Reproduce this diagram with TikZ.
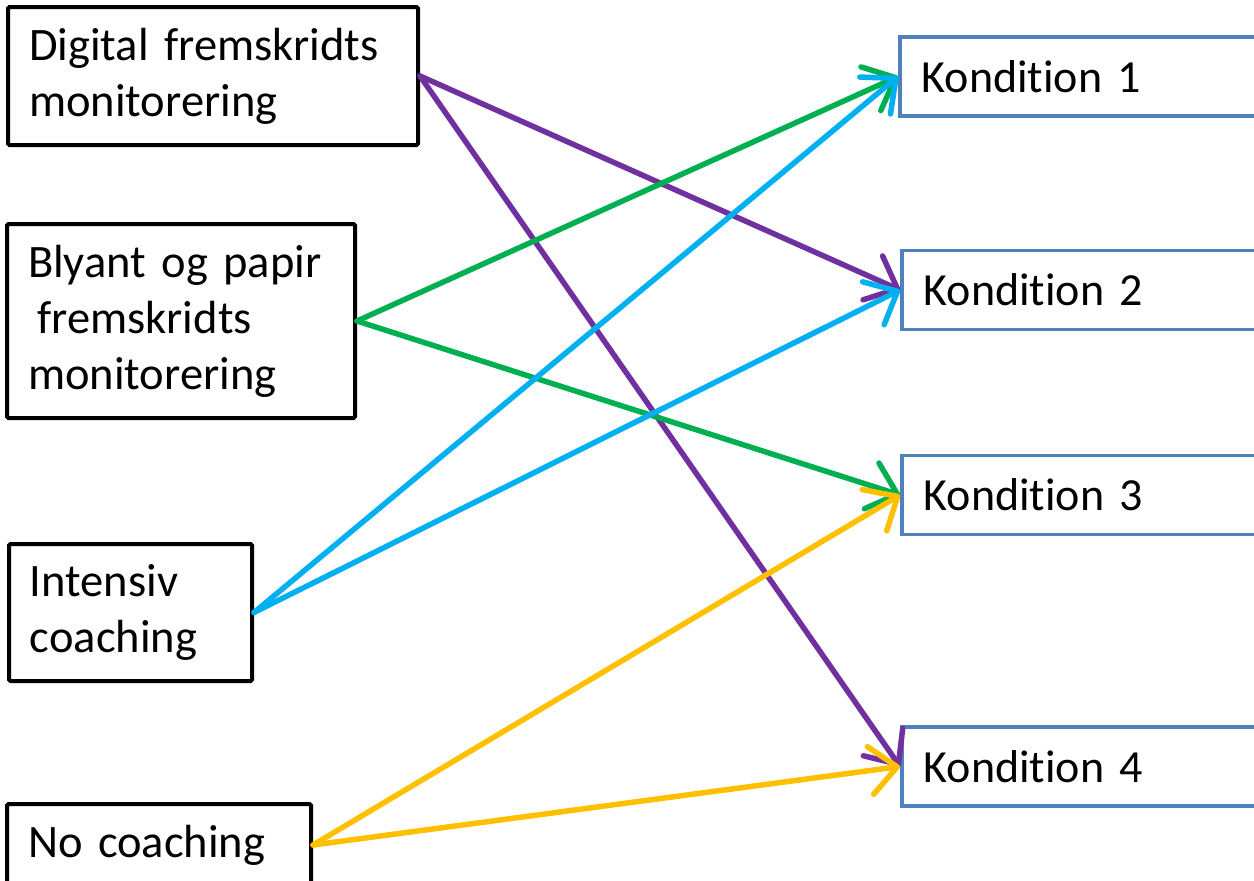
\documentclass[tikz,border=0pt]{standalone}
\usepackage{fontspec}
\setmainfont{Carlito}[Ligatures=NoCommon]
\usetikzlibrary{arrows.meta}
\definecolor{cpurple}{HTML}{7030A0}
\definecolor{cgreen}{HTML}{00B050}
\definecolor{cblue}{HTML}{00B0F0}
\definecolor{cyellow}{HTML}{FFC000}
\definecolor{cbox}{HTML}{4F81BD}
\tikzset{
  leftbox/.style={draw=black, line width=4pt, rounded corners=1.5pt, rectangle, fill=white,
    align=left, inner xsep=21pt, inner ysep=0pt, font=\fontsize{46.5}{56}\selectfont},
  condbox/.style={draw=cbox, line width=3.5pt, rectangle, fill=white, minimum height=79pt,
    minimum width=380pt, text width=336pt, align=left, inner xsep=22pt, inner ysep=0pt,
    font=\fontsize{46}{56}\selectfont},
  conn/.style={line width=5.5pt, line cap=round, line join=round,
    -{Straight Barb[length=27pt,width=48pt,line cap=round,line join=round]}}
}
\begin{document}
\begin{tikzpicture}[x=1pt,y=-1pt]
\useasboundingbox (0,0) rectangle (1254,881);
\clip (0,0) rectangle (1254,881);
% left boxes
\node[leftbox, minimum width=410pt, minimum height=138pt, text width=368pt] (dig) at (213,76)
  {Digital fremskridts\\monitorering};
\node[leftbox, minimum width=348pt, minimum height=194pt, text width=306pt] (bly) at (181,321)
  {Blyant og papir\\\hspace*{0.2em}fremskridts\\monitorering};
\node[leftbox, minimum width=243pt, minimum height=137pt, text width=201pt] (int) at (130.5,612.5)
  {Intensiv\\coaching};
\node[leftbox, minimum width=304pt, minimum height=82pt, text width=262pt] (noc) at (159,845)
  {No coaching};
% right boxes
\node[condbox, anchor=west] (k1) at (898,76.5) {Kondition 1};
\node[condbox, anchor=west] (k2) at (900,290) {Kondition 2};
\node[condbox, anchor=west] (k3) at (900,495) {Kondition 3};
\node[condbox, anchor=west] (k4) at (900,766.5) {Kondition 4};
% connectors
\draw[conn, cpurple] (dig.east) -- (k2.west);
\draw[conn, cpurple] (dig.east) -- (k4.west);
\draw[conn, cgreen] (bly.east) -- (k1.west);
\draw[conn, cgreen] (bly.east) -- (k3.west);
\draw[conn, cblue] (int.east) -- (k1.west);
\draw[conn, cblue] (int.east) -- (k2.west);
\draw[conn, cyellow] (noc.east) -- (k3.west);
\draw[conn, cyellow] (noc.east) -- (k4.west);
\end{tikzpicture}
\end{document}
